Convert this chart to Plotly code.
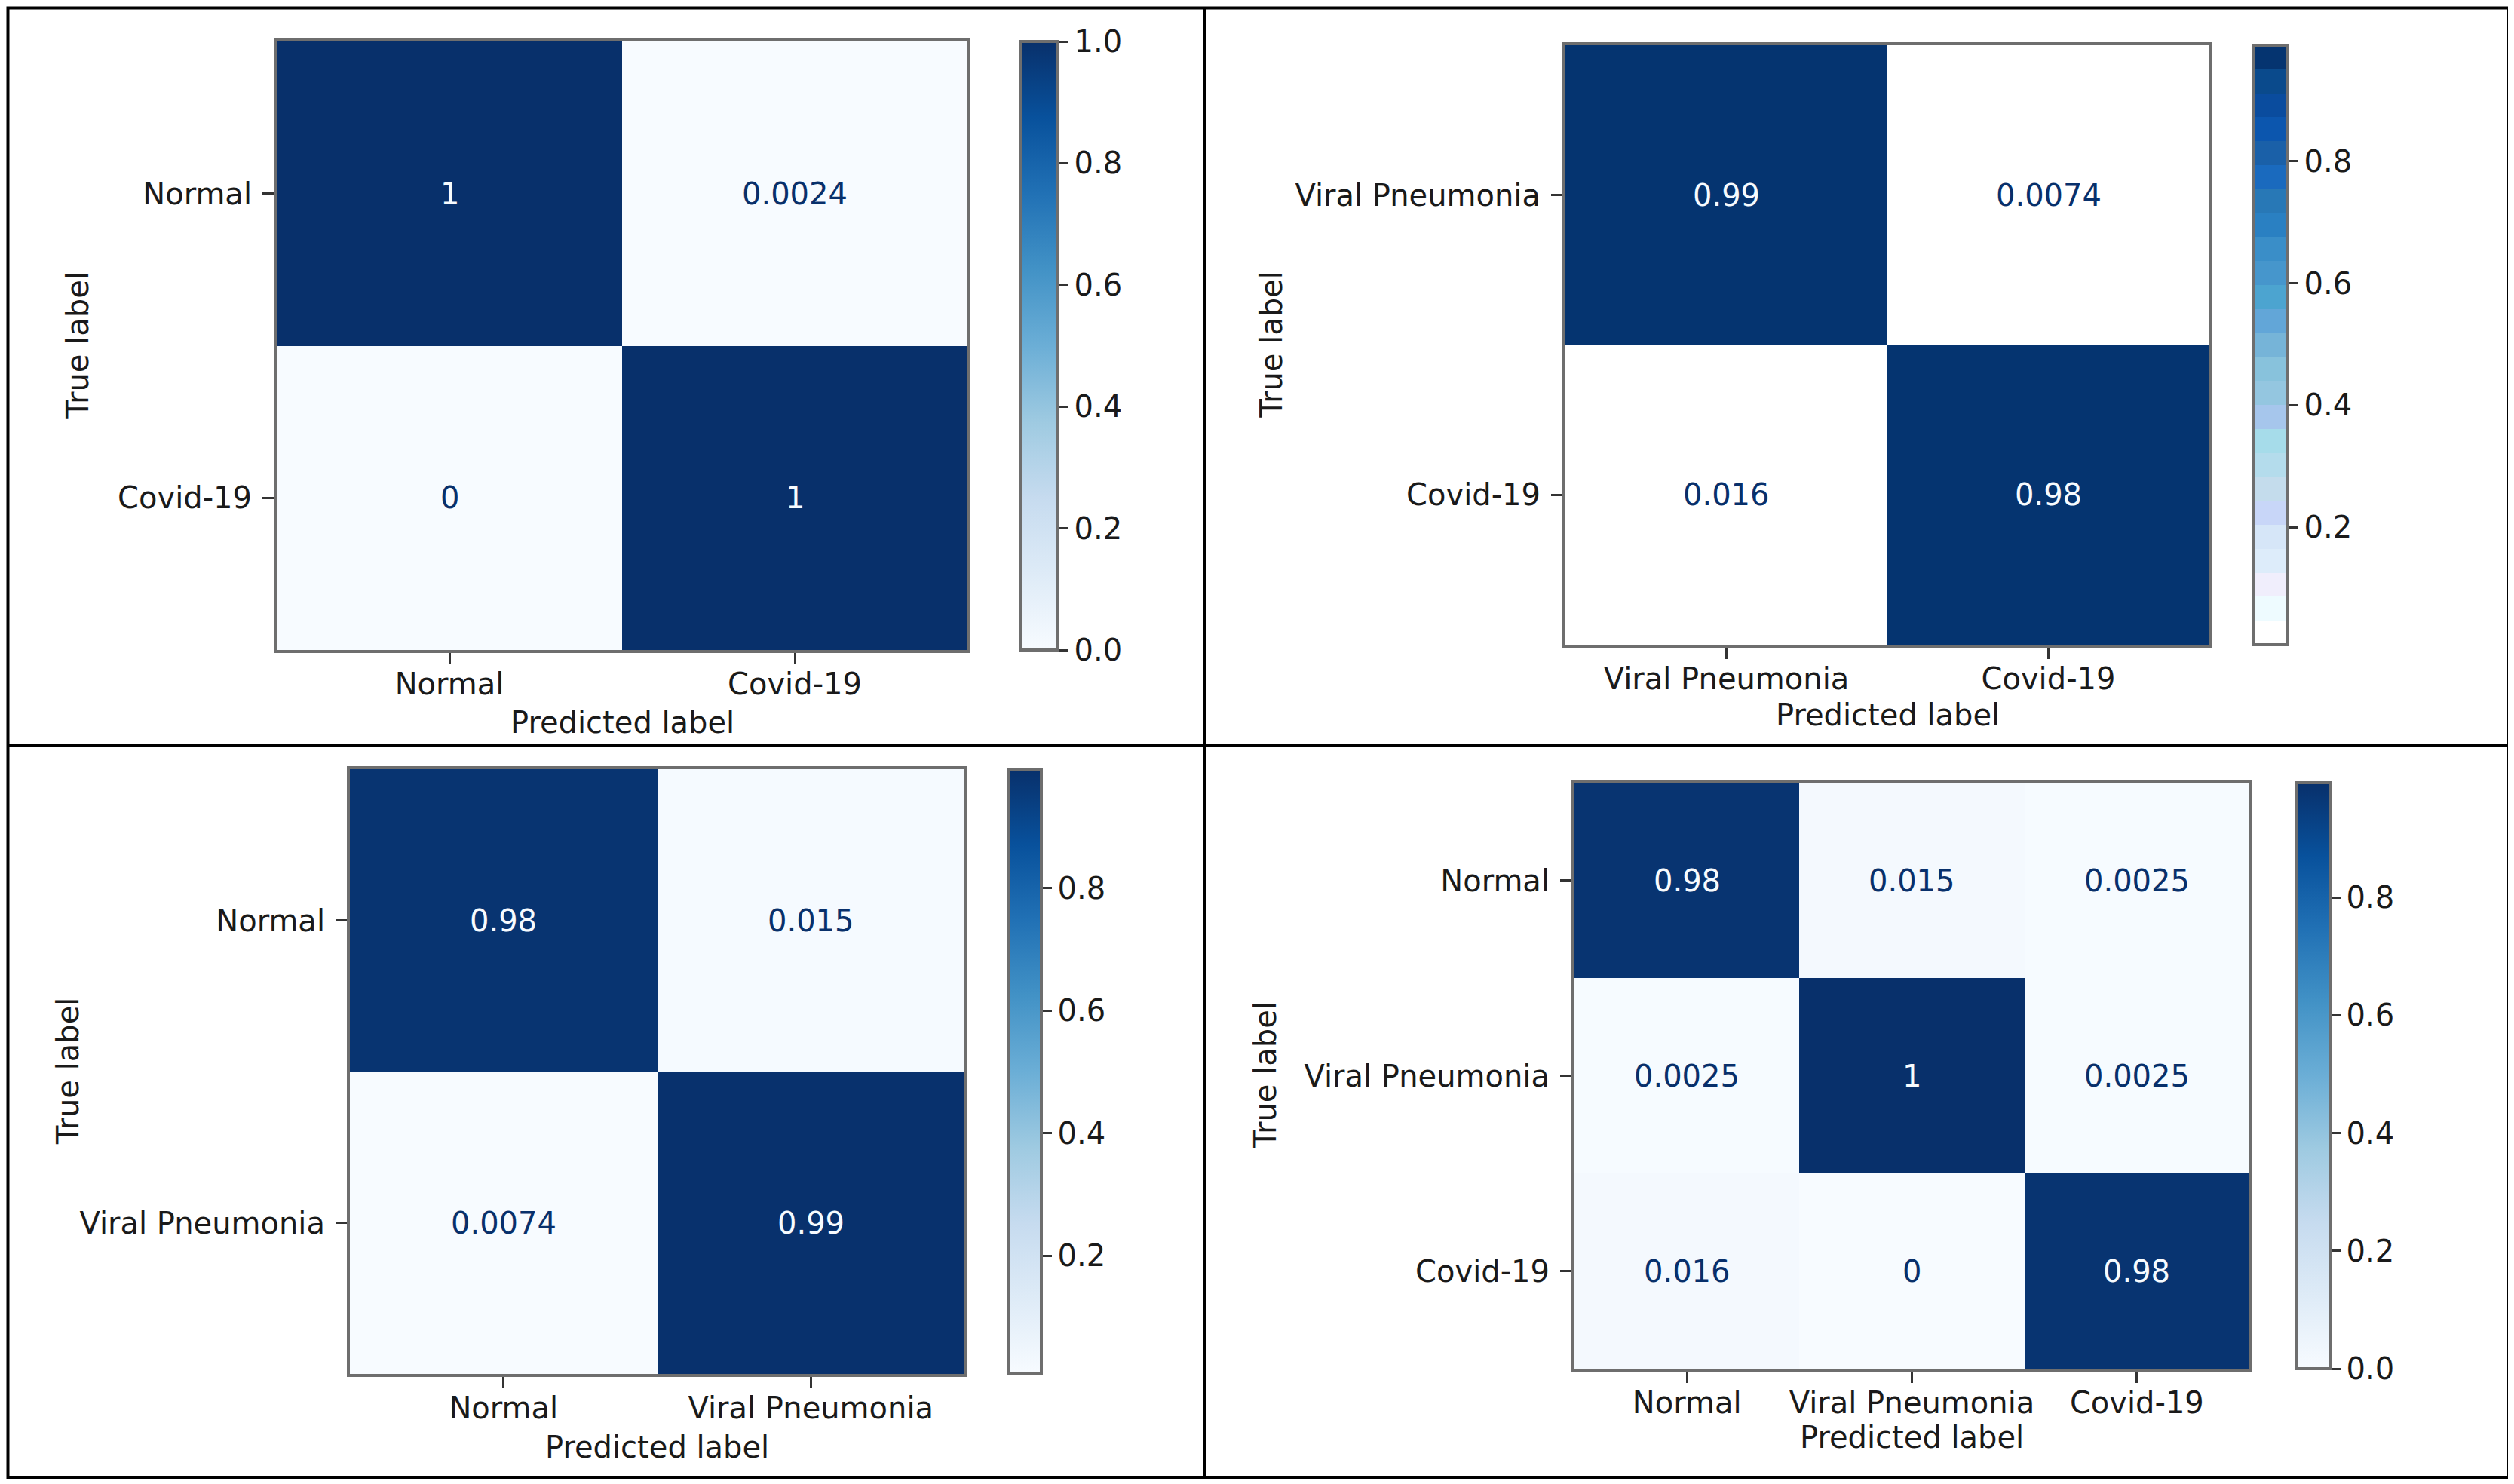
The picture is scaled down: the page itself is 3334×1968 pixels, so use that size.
import plotly.graph_objects as go

W, H = 3334, 1968
# the page body has an 8px margin, so the figure is drawn 8px in from the corner
OFF = 8
FW, FH = W - OFF, H - OFF

# --- data: four normalised confusion matrices ---
labels_a = ["Normal", "Covid-19"]
cm_a = [[1, 0.0024],
        [0, 1]]

labels_b = ["Viral Pneumonia", "Covid-19"]
cm_b = [[0.99, 0.0074],
        [0.016, 0.98]]

labels_c = ["Normal", "Viral Pneumonia"]
cm_c = [[0.98, 0.015],
        [0.0074, 0.99]]

labels_d = ["Normal", "Viral Pneumonia", "Covid-19"]
cm_d = [[0.98, 0.015, 0.0025],
        [0.0025, 1, 0.0025],
        [0.016, 0, 0.98]]

cbar_ticks_a = [0.0, 0.2, 0.4, 0.6, 0.8, 1.0]
cbar_ticks_b = [0.2, 0.4, 0.6, 0.8]
cbar_ticks_c = [0.2, 0.4, 0.6, 0.8]
cbar_ticks_d = [0.0, 0.2, 0.4, 0.6, 0.8]

# matplotlib "Blues"
blues = ["#f7fbff", "#deebf7", "#c6dbef", "#9ecae1", "#6baed6",
         "#4292c6", "#2171b5", "#08519c", "#08306b"]
blues_scale = [[i / (len(blues) - 1), c] for i, c in enumerate(blues)]

# the top-right panel has a banded (quantised) colour bar
bands = ["#ffffff", "#eefbff", "#f0eefc", "#ddecfa", "#d6e6f8", "#c8d6f8",
         "#c4dcec", "#b4dcec", "#a6dcea", "#a6c6ec", "#94c6e0", "#88c2dc",
         "#76b4d8", "#62a6d8", "#4ca4d0", "#4696cc", "#3a8ec8", "#2a80c2",
         "#2878b6", "#1a6abe", "#1a60a8", "#0c56ae", "#0a4c9e", "#0a4a8c",
         "#053470"]
band_scale = []
for i, c in enumerate(bands):
    band_scale.append([i / len(bands), c])
    band_scale.append([(i + 1) / len(bands), c])

FONT = "DejaVu Sans"
FS = 40
DARK_TXT = "#08306b"
LIGHT_TXT = "#f7fbff"
SPINE = "#6e6e6e"


def px(x):
    return (x - OFF) / FW


def py(y):
    return 1 - (y - OFF) / FH


# pixel layout (page coords) of each panel: heatmap box, colour bar x-span, titles
panels = [
    dict(labels=labels_a, cm=cm_a, ticks=cbar_ticks_a, zmin=0, zmax=1, scale=blues_scale,
         box=(367, 1283, 55, 862), cb=(1353, 1403), true_x=102, pred_y=958),
    dict(labels=labels_b, cm=cm_b, ticks=cbar_ticks_b, zmin=0.0074, zmax=0.99, scale=band_scale,
         box=(2076, 2930, 60, 855), cb=(2989, 3034), true_x=1686, pred_y=948),
    dict(labels=labels_c, cm=cm_c, ticks=cbar_ticks_c, zmin=0.0074, zmax=0.994, scale=blues_scale,
         box=(464, 1279, 1020, 1822), cb=(1338, 1381), true_x=90, pred_y=1919),
    dict(labels=labels_d, cm=cm_d, ticks=cbar_ticks_d, zmin=0, zmax=0.995, scale=blues_scale,
         box=(2088, 2983, 1038, 1815), cb=(3046, 3090), true_x=1677, pred_y=1906),
]

fig = go.Figure()
annotations = []
layout_axes = {}

for i, p in enumerate(panels, start=1):
    x0, x1, y0, y1 = p["box"]
    cx0, cx1 = p["cb"]
    n = len(p["labels"])
    xa = "x" if i == 1 else f"x{i}"
    ya = "y" if i == 1 else f"y{i}"
    xkey = "xaxis" if i == 1 else f"xaxis{i}"
    ykey = "yaxis" if i == 1 else f"yaxis{i}"

    fig.add_trace(go.Heatmap(
        z=p["cm"], x=p["labels"], y=p["labels"],
        xaxis=xa, yaxis=ya,
        colorscale=p["scale"], zmin=p["zmin"], zmax=p["zmax"],
        hoverinfo="skip",
        colorbar=dict(
            x=px(cx0), xanchor="left", xref="paper",
            y=py(y0), yanchor="top", yref="paper",
            thickness=cx1 - cx0, thicknessmode="pixels",
            len=y1 - y0, lenmode="pixels",
            xpad=0, ypad=0,
            outlinewidth=4, outlinecolor=SPINE,
            tickvals=p["ticks"], tickformat=".1f",
            ticks="outside", ticklen=12, tickwidth=3, tickcolor="#333",
            tickfont=dict(family=FONT, size=FS, color="#1a1a1a"),
        ),
    ))

    common = dict(showline=True, mirror=True, linecolor=SPINE, linewidth=4,
                  showgrid=False, zeroline=False, ticks="outside", ticklen=15,
                  tickwidth=3, tickcolor="#333", fixedrange=True,
                  tickfont=dict(family=FONT, size=FS, color="#1a1a1a"))
    layout_axes[xkey] = dict(common, domain=[px(x0), px(x1)], anchor=ya,
                             range=[-0.5, n - 0.5], type="category",
                             ticklabelstandoff=-8)
    layout_axes[ykey] = dict(common, domain=[py(y1), py(y0)], anchor=xa,
                             range=[n - 0.5, -0.5], type="category",
                             ticklabelstandoff=6)

    mid = (p["zmin"] + p["zmax"]) / 2
    for r, row_lab in enumerate(p["labels"]):
        for c, col_lab in enumerate(p["labels"]):
            v = p["cm"][r][c]
            annotations.append(dict(
                x=col_lab, y=row_lab, xref=xa, yref=ya, text=format(v, ".2g"),
                showarrow=False, xanchor="center", yanchor="middle",
                font=dict(family=FONT, size=FS, color=LIGHT_TXT if v > mid else DARK_TXT),
            ))

    annotations.append(dict(
        x=px(p["true_x"]), y=py((y0 + y1) / 2), xref="paper", yref="paper",
        text="True label", textangle=-90, showarrow=False,
        xanchor="center", yanchor="middle",
        font=dict(family=FONT, size=FS, color="#1a1a1a")))
    annotations.append(dict(
        x=px((x0 + x1) / 2), y=py(p["pred_y"]), xref="paper", yref="paper",
        text="Predicted label", showarrow=False,
        xanchor="center", yanchor="middle",
        font=dict(family=FONT, size=FS, color="#1a1a1a")))

# outer frame and the dividing lines between the panels
frame = dict(color="black", width=4)
fx0, fx1, fy0, fy1 = 10.5, 3327, 10.5, 1960
shapes = [
    dict(type="rect", xref="paper", yref="paper",
         x0=px(fx0), x1=px(fx1), y0=py(fy1), y1=py(fy0), line=frame),
    dict(type="line", xref="paper", yref="paper",
         x0=px(1598), x1=px(1598), y0=py(fy1), y1=py(fy0), line=frame),
    dict(type="line", xref="paper", yref="paper",
         x0=px(fx0), x1=px(fx1), y0=py(988), y1=py(988), line=frame),
]

fig.update_layout(
    width=FW, height=FH,
    margin=dict(l=0, r=0, t=0, b=0),
    paper_bgcolor="white", plot_bgcolor="white",
    font=dict(family=FONT, size=FS),
    annotations=annotations,
    shapes=shapes,
    showlegend=False,
    **layout_axes,
)

fig.write_html("out.html")
